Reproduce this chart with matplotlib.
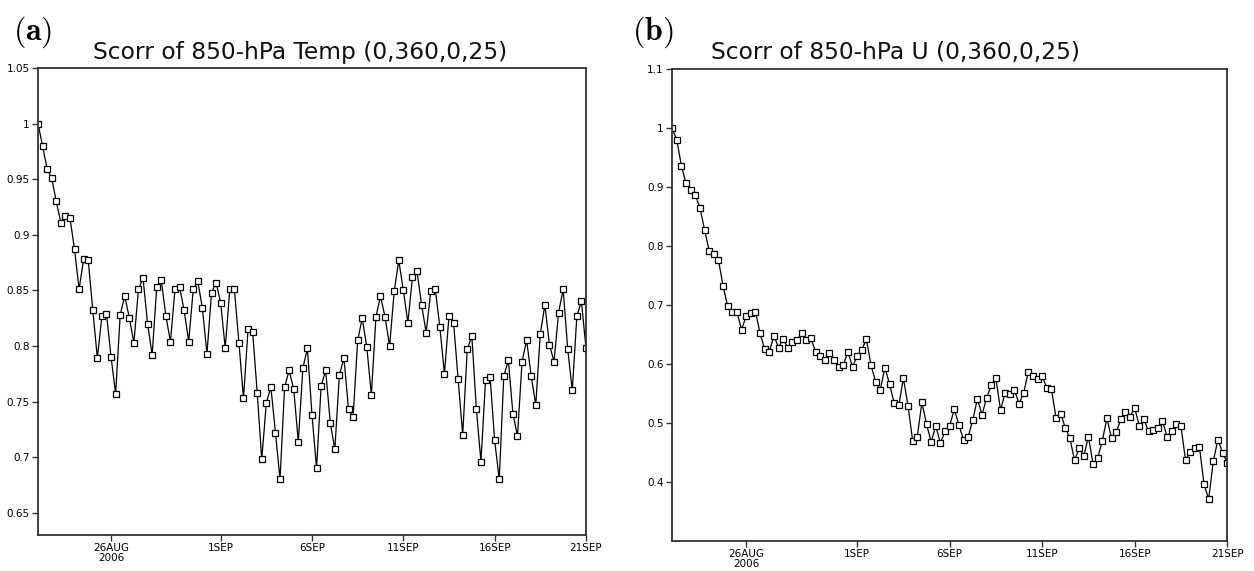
import numpy as np
import pandas as pd
import matplotlib
matplotlib.use('Agg')
import matplotlib.pyplot as plt

plt.rcParams['mathtext.fontset'] = 'cm'

# 6-hourly valid times, 22AUG2006 00Z to 21SEP2006 00Z
times = pd.date_range('2006-08-22', '2006-09-21', freq='6h')

temp_scorr = [
  1.000, 0.980, 0.959, 0.951, 0.930, 0.911, 0.917, 0.915, 0.887, 0.851,
  0.878, 0.877, 0.832, 0.789, 0.827, 0.829, 0.790, 0.757, 0.828, 0.845,
  0.825, 0.803, 0.851, 0.861, 0.820, 0.792, 0.853, 0.859, 0.827, 0.804,
  0.851, 0.853, 0.832, 0.804, 0.851, 0.858, 0.834, 0.793, 0.848, 0.857,
  0.839, 0.798, 0.851, 0.851, 0.803, 0.753, 0.815, 0.813, 0.758, 0.698,
  0.749, 0.763, 0.722, 0.680, 0.763, 0.778, 0.761, 0.714, 0.780, 0.798,
  0.738, 0.690, 0.764, 0.778, 0.731, 0.707, 0.774, 0.789, 0.743, 0.736,
  0.805, 0.825, 0.799, 0.756, 0.826, 0.845, 0.826, 0.800, 0.849, 0.877,
  0.850, 0.821, 0.862, 0.867, 0.837, 0.812, 0.849, 0.851, 0.817, 0.775,
  0.827, 0.821, 0.770, 0.720, 0.797, 0.809, 0.743, 0.696, 0.769, 0.772,
  0.715, 0.680, 0.773, 0.787, 0.739, 0.719, 0.786, 0.805, 0.773, 0.747,
  0.811, 0.837, 0.801, 0.786, 0.830, 0.851, 0.797, 0.760, 0.827, 0.840,
  0.798,
]

u_scorr = [
  1.000, 0.980, 0.936, 0.906, 0.895, 0.887, 0.865, 0.828, 0.792, 0.786,
  0.777, 0.733, 0.698, 0.689, 0.689, 0.658, 0.681, 0.686, 0.689, 0.653,
  0.625, 0.620, 0.648, 0.628, 0.642, 0.628, 0.638, 0.641, 0.652, 0.641,
  0.644, 0.621, 0.614, 0.607, 0.619, 0.607, 0.595, 0.598, 0.621, 0.595,
  0.614, 0.624, 0.642, 0.598, 0.570, 0.556, 0.594, 0.566, 0.534, 0.530,
  0.576, 0.529, 0.470, 0.477, 0.535, 0.498, 0.468, 0.495, 0.466, 0.486,
  0.495, 0.523, 0.497, 0.471, 0.477, 0.505, 0.541, 0.514, 0.543, 0.564,
  0.576, 0.522, 0.551, 0.550, 0.556, 0.533, 0.551, 0.587, 0.580, 0.575,
  0.579, 0.560, 0.558, 0.509, 0.516, 0.492, 0.474, 0.437, 0.457, 0.444,
  0.477, 0.431, 0.440, 0.470, 0.508, 0.474, 0.484, 0.506, 0.518, 0.511,
  0.526, 0.495, 0.506, 0.486, 0.489, 0.492, 0.504, 0.477, 0.487, 0.498,
  0.495, 0.437, 0.451, 0.457, 0.460, 0.396, 0.371, 0.435, 0.472, 0.450,
  0.433,
]

xtick_dates = pd.to_datetime(['2006-08-26', '2006-09-01', '2006-09-06',
                              '2006-09-11', '2006-09-16', '2006-09-21'])
xtick_labels = ['26AUG\n2006', '1SEP', '6SEP', '11SEP', '16SEP', '21SEP']

temp_yticks = [0.65, 0.7, 0.75, 0.8, 0.85, 0.9, 0.95, 1.0, 1.05]
u_yticks = [0.4, 0.5, 0.6, 0.7, 0.8, 0.9, 1.0, 1.1]

panels = [
  ('(a)', 'Scorr of 850-hPa Temp (0,360,0,25)', temp_scorr, temp_yticks, (0.63, 1.05),
   [0.0303, 0.063, 0.437, 0.818], (0.010, 0.975), 0.239),
  ('(b)', 'Scorr of 850-hPa U (0,360,0,25)', u_scorr, u_yticks, (0.30, 1.10),
   [0.536, 0.0525, 0.4426, 0.8266], (0.504, 0.975), 0.7145),
]

fig = plt.figure(figsize=(12.54, 5.71), dpi=100)

for tag, title, vals, yticks, ylim, rect, tagpos, title_x in panels:
  ax = fig.add_axes(rect)
  ax.plot(times, vals, color='black', lw=0.9, marker='s', ms=4,
          mfc='white', mec='black', mew=0.9)
  ax.set_xlim(times[0], times[-1])
  ax.set_ylim(*ylim)
  ax.set_yticks(yticks)
  ax.set_yticklabels(['%g' % v for v in yticks])
  ax.set_xticks(xtick_dates)
  ax.set_xticklabels(xtick_labels, linespacing=0.9)
  ax.tick_params(direction='out', length=4, width=1, colors='#333333',
                 labelsize=7.5, pad=2)
  for lab in ax.get_xticklabels() + ax.get_yticklabels():
    lab.set_color('black')
  for sp in ax.spines.values():
    sp.set_linewidth(1.3)
    sp.set_color('#333333')

  fig.text(title_x, 0.908, title, ha='center', va='center', fontsize=16.8,
           color='#111111')
  fig.text(tagpos[0], tagpos[1], r'$\mathbf{%s}$' % tag, ha='left', va='top',
           fontsize=23)

fig.savefig('out.png', dpi=100)
